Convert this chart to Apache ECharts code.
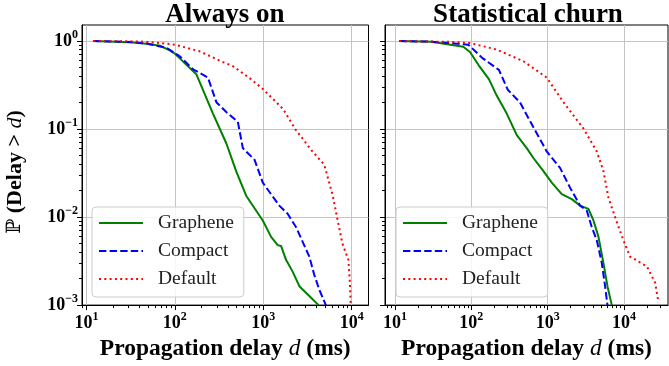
<!DOCTYPE html>
<html>
<head>
<meta charset="utf-8">
<script src="https://cdn.jsdelivr.net/npm/echarts@6/dist/echarts.min.js"></script>
<style>
  html, body { margin: 0; padding: 0; background: #fff; }
  #chart { width: 669px; height: 366px; }
</style>
</head>
<body>
<div id="chart"></div>
<script>
const panelTitles = ['Always on', 'Statistical churn'];
const seriesNames = ['Graphene', 'Compact', 'Default'];
const seriesColors = ['#008000', '#0000ff', '#ff0000'];
const majorX = [10, 100, 1000, 10000];
const majorY = [1, 0.1, 0.01, 0.001];
const xRanges = [[8.92, 15500], [7.4, 37700]];
const yRange = [0.001, 1.522];

// Always on panel, [delay ms, P(delay > d)]
const alwaysGraphene = [[12, 1], [31, 0.97], [48, 0.93], [68, 0.885], [88, 0.785], [100, 0.72], [175, 0.42], [218, 0.25], [270, 0.15], [382, 0.069], [495, 0.033], [641, 0.0175], [988, 0.00916], [1227, 0.00596], [1457, 0.0048], [1590, 0.0047], [1810, 0.00327], [2150, 0.0024], [2560, 0.00164], [3320, 0.00127], [4220, 0.001]];
const alwaysCompact = [[12, 1], [31, 0.975], [48, 0.94], [81, 0.835], [114, 0.67], [161, 0.477], [237, 0.385], [295, 0.202], [382, 0.156], [516, 0.121], [588, 0.0607], [796, 0.0449], [988, 0.0246], [1520, 0.0135], [1888, 0.0109], [2346, 0.0077], [3320, 0.00356], [3770, 0.00222], [4300, 0.0015], [5100, 0.001]];
const alwaysDefault = [[12, 1], [40, 0.99], [68, 0.95], [100, 0.91], [191, 0.765], [321, 0.6], [452, 0.52], [700, 0.38], [993, 0.285], [1667, 0.17], [2346, 0.0973], [3600, 0.0557], [4890, 0.0394], [6060, 0.0182], [6900, 0.0095], [7860, 0.005], [9180, 0.00327], [9500, 0.00195], [9770, 0.001]];

// Statistical churn panel
const churnGraphene = [[11.4, 1], [30, 0.98], [78.5, 0.86], [96, 0.75], [125, 0.53], [170, 0.37], [215, 0.24], [291, 0.15], [394, 0.0855], [532, 0.0607], [650, 0.0469], [880, 0.0333], [1132, 0.0246], [1530, 0.0182], [2070, 0.016], [2660, 0.0135], [3420, 0.0124], [3980, 0.00916], [4630, 0.00596], [5380, 0.003], [6070, 0.00164], [6920, 0.001]];
const churnCompact = [[11.4, 1], [30, 0.985], [91.5, 0.91], [140, 0.64], [230, 0.47], [300, 0.28], [435, 0.2], [650, 0.105], [972, 0.0557], [1453, 0.0362], [1966, 0.0216], [2660, 0.0135], [3250, 0.0119], [3780, 0.0077], [4400, 0.00547], [5120, 0.003], [5650, 0.00164], [6070, 0.001]];
const churnDefault = [[11.4, 1], [50, 0.98], [96, 0.95], [215, 0.8], [481, 0.59], [972, 0.385], [1607, 0.202], [2940, 0.1016], [4400, 0.0557], [5380, 0.0333], [6250, 0.0167], [7640, 0.00997], [9810, 0.00547], [12000, 0.00356], [19960, 0.00275], [25600, 0.00179], [28300, 0.00107]];

const panelData = [
    [alwaysGraphene, alwaysCompact, alwaysDefault],
    [churnGraphene, churnCompact, churnDefault]
];

const serifFont = 'Liberation Serif';
const lineTypes = ['solid', [7.4, 3.2], [2, 3.3]];
const gridBoxes = [
    { left: 82, right: 300.5, top: 25, bottom: 56.7 },
    { left: 385, right: 1, top: 25, bottom: 56.7 }
];

function minorTicks(lo, hi) {
    let out = [];
    for (let e = -4; e <= 5; e++) {
        for (let k = 2; k <= 9; k++) {
            let v = k * Math.pow(10, e);
            if (v > lo && v < hi) out.push(v);
        }
    }
    return out;
}

function powLabel(v) {
    let e = Math.round(Math.log10(v));
    return '{b|10}{s|' + String(e).replace('-', '\u2212') + '}';
}

const tickRich = {
    b: { fontFamily: serifFont, fontWeight: 'bold', fontSize: 18, lineHeight: 24, color: '#000' },
    s: { fontFamily: serifFont, fontWeight: 'bold', fontSize: 12, lineHeight: 12, verticalAlign: 'top', color: '#000' }
};

var dom = document.getElementById('chart');
var myChart = echarts.init(dom);

let grids = [], xAxes = [], yAxes = [], series = [], legends = [];

for (let p = 0; p < 2; p++) {
    grids.push(Object.assign({ show: true, borderColor: '#000', borderWidth: 1, backgroundColor: 'transparent' }, gridBoxes[p]));

    // major x axis
    xAxes.push({
        gridIndex: p, type: 'log', logBase: 10, position: 'bottom',
        min: xRanges[p][0], max: xRanges[p][1],
        axisLine: { show: true, lineStyle: { color: '#000', width: 1 } },
        axisTick: { show: true, length: 5, customValues: majorX, lineStyle: { color: '#000', width: 1 } },
        axisLabel: { customValues: majorX, formatter: powLabel, rich: tickRich, margin: 6 },
        splitLine: { show: true, lineStyle: { color: '#c4c4c4', width: 1 } },
        name: '{b|Propagation delay }{i|d}{b| (ms)}',
        nameLocation: 'middle', nameGap: 28,
        nameTextStyle: {
            rich: {
                b: { fontFamily: serifFont, fontWeight: 'bold', fontSize: 23.5, color: '#000' },
                i: { fontFamily: serifFont, fontStyle: 'italic', fontSize: 23.5, color: '#000' }
            }
        }
    });
    // minor x ticks
    xAxes.push({
        gridIndex: p, type: 'log', logBase: 10, position: 'bottom',
        min: xRanges[p][0], max: xRanges[p][1],
        axisLine: { show: false },
        axisTick: { show: true, length: 3, customValues: minorTicks(xRanges[p][0], xRanges[p][1]), lineStyle: { color: '#000', width: 1 } },
        axisLabel: { show: false },
        splitLine: { show: false }
    });

    yAxes.push({
        gridIndex: p, type: 'log', logBase: 10, position: 'left',
        min: yRange[0], max: yRange[1],
        axisLine: { show: true, lineStyle: { color: '#000', width: 1 } },
        axisTick: { show: true, length: 5, customValues: majorY, lineStyle: { color: '#000', width: 1 } },
        axisLabel: { show: p === 0, customValues: majorY, formatter: powLabel, rich: tickRich, margin: 4 },
        splitLine: { show: true, lineStyle: { color: '#c4c4c4', width: 1 } }
    });
    // minor y ticks
    yAxes.push({
        gridIndex: p, type: 'log', logBase: 10, position: 'left',
        min: yRange[0], max: yRange[1],
        axisLine: { show: false },
        axisTick: { show: true, length: 3, customValues: minorTicks(yRange[0], yRange[1]), lineStyle: { color: '#000', width: 1 } },
        axisLabel: { show: false },
        splitLine: { show: false }
    });

    for (let i = 0; i < 3; i++) {
        series.push({
            name: seriesNames[i],
            type: 'line',
            xAxisIndex: p * 2,
            yAxisIndex: p * 2,
            data: panelData[p][i],
            symbol: 'none',
            showSymbol: false,
            clip: true,
            z: 3,
            lineStyle: { color: seriesColors[i], width: 2, type: lineTypes[i] },
            itemStyle: { color: seriesColors[i] }
        });
    }

    legends.push({
        data: seriesNames,
        orient: 'vertical',
        left: [92, 396][p],
        top: 207,
        itemWidth: 44,
        itemHeight: 10,
        itemGap: 8,
        padding: [6, 10, 8, 6],
        backgroundColor: 'rgba(255,255,255,0.85)',
        borderColor: '#cccccc',
        borderWidth: 1,
        borderRadius: 4,
        selectedMode: false,
        itemStyle: { opacity: 0 },
        textStyle: { fontFamily: serifFont, fontSize: 19.5, lineHeight: 20, color: '#222', padding: [0, 0, 0, 10] }
    });
}

var option = {
    animation: false,
    backgroundColor: '#fff',
    grid: grids,
    xAxis: xAxes,
    yAxis: yAxes,
    legend: legends,
    series: series,
    graphic: [
        {
            type: 'text', x: 225, y: 15,
            style: { text: panelTitles[0], align: 'center', verticalAlign: 'middle', font: 'bold 27px "Liberation Serif"', fill: '#000' }
        },
        {
            type: 'text', x: 528, y: 15,
            style: { text: panelTitles[1], align: 'center', verticalAlign: 'middle', font: 'bold 27px "Liberation Serif"', fill: '#000' }
        },
        {
            type: 'text', x: 15, y: 172, rotation: Math.PI / 2,
            style: {
                text: '{n|\u2119}{b| (Delay > }{i|d}{b|)}',
                align: 'center', verticalAlign: 'middle',
                rich: {
                    n: { fontFamily: 'DejaVu Serif', fontSize: 20, fill: '#000' },
                    b: { fontFamily: serifFont, fontWeight: 'bold', fontSize: 22, fill: '#000' },
                    i: { fontFamily: serifFont, fontStyle: 'italic', fontSize: 22, fill: '#000' }
                }
            }
        }
    ]
};

if (option && typeof option === 'object') {
    myChart.setOption(option);
}
window.addEventListener('resize', myChart.resize);
</script>
</body>
</html>
